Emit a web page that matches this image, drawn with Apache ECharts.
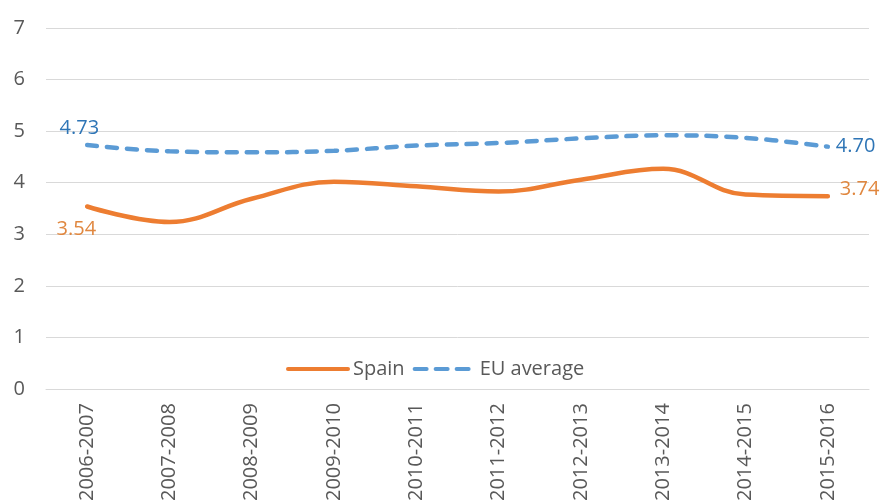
<!DOCTYPE html>
<html>
<head>
<meta charset="utf-8">
<script src="https://cdn.jsdelivr.net/npm/echarts@6/dist/echarts.min.js"></script>
<style>
  html, body { margin: 0; padding: 0; background: #fff; }
  #chart { width: 883px; height: 504px; }
</style>
</head>
<body>
<div id="chart"></div>
<script>
// Academic years on the category axis
const years = ['2006-2007', '2007-2008', '2008-2009', '2009-2010', '2010-2011',
               '2011-2012', '2012-2013', '2013-2014', '2014-2015', '2015-2016'];
// Series values
const spain = [3.54, 3.24, 3.69, 4.02, 3.93, 3.83, 4.06, 4.27, 3.77, 3.74];
const euAverage = [4.73, 4.61, 4.59, 4.62, 4.72, 4.77, 4.86, 4.92, 4.87, 4.70];
// Value axis ticks
const yMin = 0, yMax = 7, yStep = 1;

const FONT = '"Open Sans", "Liberation Sans", sans-serif';
const ORANGE = '#ED7D31', BLUE = '#5B9BD5';
const ORANGE_TXT = '#E0873F', BLUE_TXT = '#2E75B6';

// Show the value only at the first and last points of a series.
// Those two points get a transparent symbol so the line series can carry a label.
function withEndLabels(values, color, firstOffset, lastOffset) {
  return values.map((v, i) => {
    if (i === 0 || i === values.length - 1) {
      const first = i === 0;
      return {
        value: v,
        symbol: 'circle',
        symbolSize: 2,
        itemStyle: { color: 'rgba(0,0,0,0)', borderWidth: 0 },
        label: {
          show: true,
          position: first ? 'left' : 'right',
          offset: first ? firstOffset : lastOffset,
          formatter: p => Number(p.value).toFixed(2),
          color: color,
          fontFamily: FONT,
          fontSize: 20
        }
      };
    }
    return v;
  });
}

const chart = echarts.init(document.getElementById('chart'));
chart.setOption({
  animation: false,
  backgroundColor: '#fff',
  grid: { left: 46, right: 14, top: 28, bottom: 113, containLabel: false },
  legend: {
    left: 281,
    top: 354,
    itemWidth: 60,
    itemHeight: 14,
    itemGap: 8,
    lineStyle: { width: 4 },
    itemStyle: { opacity: 0 },
    textStyle: { fontFamily: FONT, fontSize: 20, color: '#595959' },
    data: [
      { name: 'Spain' },
      { name: 'EU average', lineStyle: { type: [12, 9], width: 4, cap: 'round' } }
    ]
  },
  xAxis: {
    type: 'category',
    data: years,
    boundaryGap: true,
    axisLine: { show: true, lineStyle: { color: '#D9D9D9', width: 1 } },
    axisTick: { show: false },
    axisLabel: {
      rotate: 90,
      margin: 14,
      fontFamily: FONT,
      fontSize: 20,
      color: '#595959'
    }
  },
  yAxis: {
    type: 'value',
    min: yMin,
    max: yMax,
    interval: yStep,
    axisLine: { show: false },
    axisTick: { show: false },
    splitLine: { lineStyle: { color: '#D9D9D9', width: 1 } },
    axisLabel: {
      margin: 21,
      fontFamily: FONT,
      fontSize: 20,
      color: '#595959'
    }
  },
  series: [
    {
      name: 'Spain',
      type: 'line',
      smooth: 0.4,
      symbol: 'none',
      data: withEndLabels(spain, ORANGE_TXT, [15, 23], [6, -7]),
      lineStyle: { color: ORANGE, width: 4.5, cap: 'round' },
      itemStyle: { color: ORANGE }
    },
    {
      name: 'EU average',
      type: 'line',
      smooth: 0.4,
      symbol: 'none',
      data: withEndLabels(euAverage, BLUE_TXT, [18, -17], [2, 0]),
      lineStyle: { color: BLUE, width: 4.5, type: [10, 10], cap: 'round' },
      itemStyle: { color: BLUE }
    }
  ]
});
</script>
</body>
</html>
